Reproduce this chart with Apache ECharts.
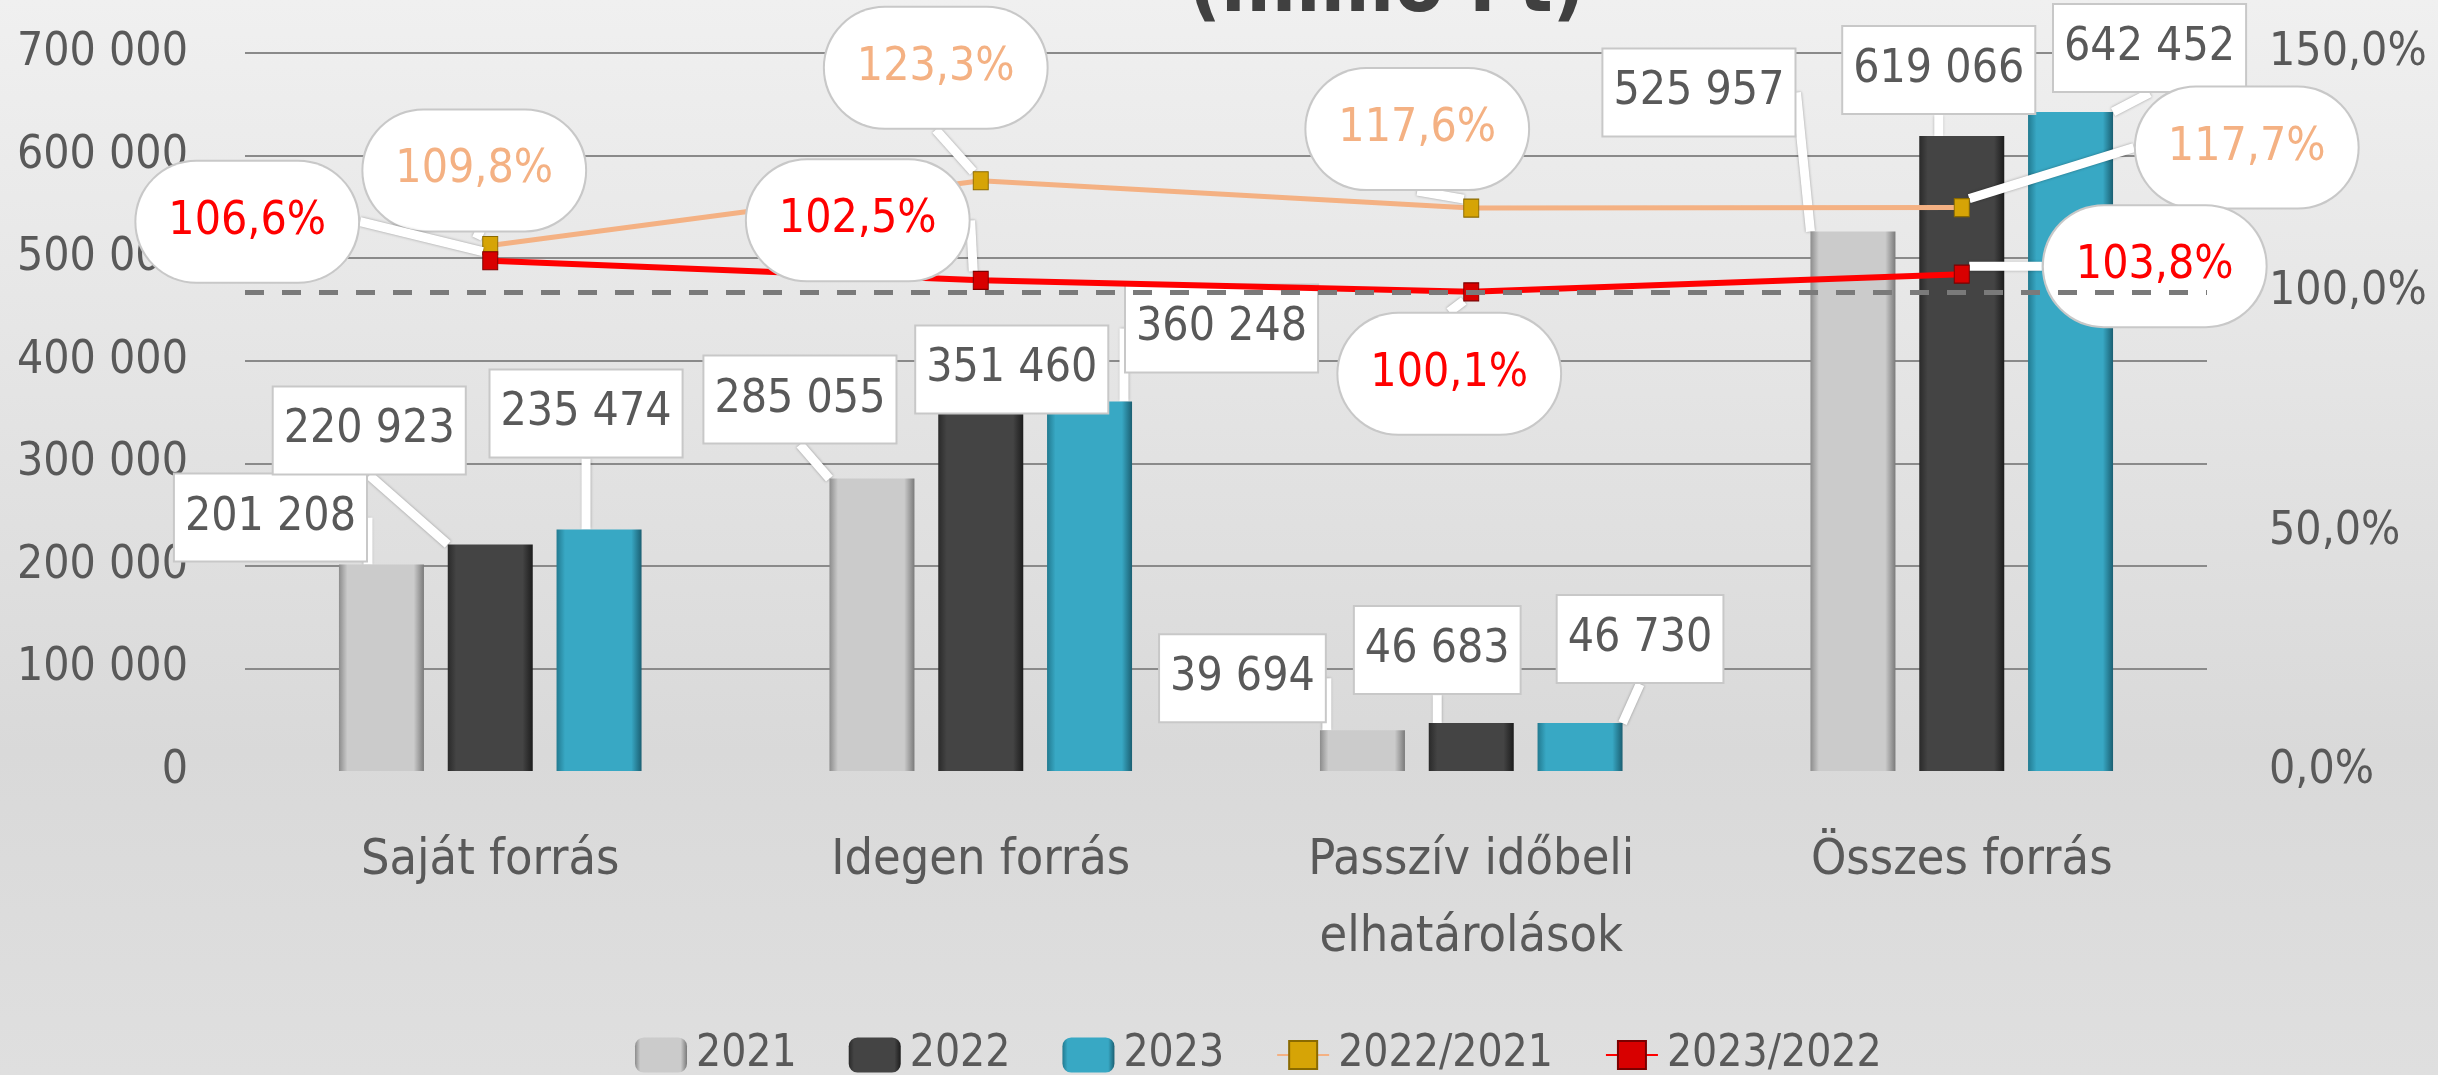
<!DOCTYPE html>
<html>
<head>
<meta charset="utf-8">
<script src="https://cdn.jsdelivr.net/npm/echarts@6/dist/echarts.min.js"></script>
<style>
  html, body { margin: 0; padding: 0; }
  #chart { width: 2438px; height: 1075px; }
</style>
</head>
<body>
<div id="chart"></div>
<script>
// adatok
const categories = ["Saját forrás", "Idegen forrás", "Passzív időbeli\nelhatárolások", "Összes forrás"];
const values2021 = [201208, 285055, 39694, 525957];
const values2022 = [220923, 351460, 46683, 619066];
const values2023 = [235474, 360248, 46730, 642452];
const ratio2022to2021 = [109.8, 123.3, 117.6, 117.7];
const ratio2023to2022 = [106.6, 102.5, 100.1, 103.8];
const legendNames = ["2021", "2022", "2023", "2022/2021", "2023/2022"];
const leftAxisMax = 700000;
const leftAxisStep = 100000;
const rightAxisMax = 150;
const rightAxisStep = 50;
const referenceRatio = 100;

// callout eltolások (px) a címkékhez
const offsets2021 = [[-111, -47], [-72, -79], [-120, -52], [-154, -139]];
const offsets2022 = [[-121, -114], [31, -41], [-34, -73], [-23, -66]];
const offsets2023 = [[-13, -116], [132, -73], [60, -84], [79, -64]];
const offsetsR1 = [[-16, -75], [-45, -113], [-54, -79], [285, -60]];
const offsetsR2 = [[-243, -39], [-123, -60], [-22, 82], [193, -8]];

const FONT = "'DejaVu Sans Condensed', 'Liberation Sans Narrow', 'DejaVu Sans', sans-serif";
const TEXT = "#595959";

function thousands(v) {
  return String(v).replace(/\B(?=(\d{3})+(?!\d))/g, " ");
}
function pct(v) {
  return v.toFixed(1).replace(".", ",") + "%";
}
function barGradient(edge, mid, edge2) {
  return new echarts.graphic.LinearGradient(0, 0, 1, 0, [
    { offset: 0, color: edge },
    { offset: 0.1, color: mid },
    { offset: 0.88, color: mid },
    { offset: 1, color: edge2 },
  ]);
}
function barLayout(offs) {
  return function (params) {
    const r = params.rect;
    const o = offs[params.dataIndex];
    return { x: r.x + r.width / 2 + o[0], y: r.y + o[1], align: "center", verticalAlign: "middle" };
  };
}
function pointLayout(offs) {
  return function (params) {
    const r = params.rect;
    const o = offs[params.dataIndex];
    return { x: r.x + r.width / 2 + o[0], y: r.y + r.height / 2 + o[1], align: "center", verticalAlign: "middle" };
  };
}

const calloutLine = {
  show: true,
  lineStyle: { color: "#ffffff", width: 9, shadowBlur: 3, shadowColor: "rgba(0,0,0,0.35)" },
};

const barLabel = {
  show: true,
  position: "top",
  formatter: (p) => thousands(p.value),
  color: TEXT,
  fontFamily: FONT,
  fontSize: 46,
  lineHeight: 46,
  backgroundColor: "#ffffff",
  borderColor: "#c8c8c8",
  borderWidth: 2,
  padding: [20, 10],
};

function ratioLabel(color) {
  return {
    show: true,
    position: "top",
    formatter: (p) => pct(p.value),
    color: color,
    fontFamily: FONT,
    fontSize: 46,
    lineHeight: 46,
    backgroundColor: "#ffffff",
    borderColor: "#c8c8c8",
    borderWidth: 2,
    borderRadius: 60,
    padding: [37, 32],
  };
}

const splitColors = [];
for (let v = 0; v <= leftAxisMax; v += leftAxisStep) {
  splitColors.push(v === 0 ? "rgba(0,0,0,0)" : "#8a8a8a");
}

let myChart = echarts.init(document.getElementById("chart"));
let option = {
  animation: false,
  backgroundColor: {
    type: "linear", x: 0, y: 0, x2: 0, y2: 1,
    colorStops: [
      { offset: 0, color: "#f0f0f0" },
      { offset: 0.7, color: "#d9d9d9" },
      { offset: 1, color: "#dfdfdf" },
    ],
  },
  title: {
    text: "(millió Ft)",
    left: 1183,
    top: -55,
    textStyle: { fontFamily: FONT, fontSize: 80, fontWeight: "bold", color: "#404040" },
  },
  legend: {
    data: legendNames,
    left: 630,
    top: 1028,
    itemWidth: 52,
    itemHeight: 35,
    itemGap: 52,
    textStyle: { fontFamily: FONT, fontSize: 44, color: TEXT, padding: [0, 0, 0, 4] },
  },
  grid: { left: 245, right: 231, top: 53, bottom: 304 },
  xAxis: {
    type: "category",
    data: categories,
    axisLine: { show: false },
    axisTick: { show: false },
    axisLabel: { fontFamily: FONT, fontSize: 50, lineHeight: 77, color: TEXT, margin: 52 },
  },
  yAxis: [
    {
      type: "value",
      min: 0,
      max: leftAxisMax,
      interval: leftAxisStep,
      axisLabel: { formatter: thousands, fontFamily: FONT, fontSize: 46, color: TEXT, margin: 57 },
      splitLine: { lineStyle: { color: splitColors, width: 2 } },
    },
    {
      type: "value",
      min: 0,
      max: rightAxisMax,
      interval: rightAxisStep,
      axisLabel: { formatter: pct, fontFamily: FONT, fontSize: 46, color: TEXT, margin: 62 },
      splitLine: { show: false },
    },
  ],
  series: [
    {
      name: "2021",
      type: "bar",
      data: values2021,
      barWidth: 85,
      barGap: "28%",
      itemStyle: { color: barGradient("#8c8c8c", "#cbcbcb", "#7a7a7a") },
      label: barLabel,
      labelLine: calloutLine,
      labelLayout: barLayout(offsets2021),
    },
    {
      name: "2022",
      type: "bar",
      data: values2022,
      barWidth: 85,
      barGap: "28%",
      itemStyle: { color: barGradient("#2a2a2a", "#444444", "#1c1c1c") },
      label: barLabel,
      labelLine: calloutLine,
      labelLayout: barLayout(offsets2022),
    },
    {
      name: "2023",
      type: "bar",
      data: values2023,
      barWidth: 85,
      barGap: "28%",
      itemStyle: { color: barGradient("#227a90", "#38a8c4", "#1b5f72") },
      label: barLabel,
      labelLine: calloutLine,
      labelLayout: barLayout(offsets2023),
    },
    {
      name: "2022/2021",
      type: "line",
      yAxisIndex: 1,
      data: ratio2022to2021,
      symbol: "rect",
      symbolSize: [15, 18],
      lineStyle: { color: "#f4b183", width: 5 },
      itemStyle: { color: "#d6a406", borderColor: "#8a6a00", borderWidth: 1 },
      label: ratioLabel("#f4b183"),
      labelLine: calloutLine,
      labelLayout: pointLayout(offsetsR1),
      z: 5,
    },
    {
      name: "2023/2022",
      type: "line",
      yAxisIndex: 1,
      data: ratio2023to2022,
      symbol: "rect",
      symbolSize: [15, 18],
      lineStyle: { color: "#ff0000", width: 6 },
      itemStyle: { color: "#d80000", borderColor: "#7a0000", borderWidth: 1 },
      label: ratioLabel("#ff0000"),
      labelLine: calloutLine,
      labelLayout: pointLayout(offsetsR2),
      markLine: {
        silent: true,
        symbol: "none",
        z: 10,
        label: { show: false },
        lineStyle: { color: "#7a7a7a", type: [19, 18], width: 5 },
        data: [{ yAxis: referenceRatio }],
      },
      z: 6,
    },
  ],
};
myChart.setOption(option);
</script>
</body>
</html>
